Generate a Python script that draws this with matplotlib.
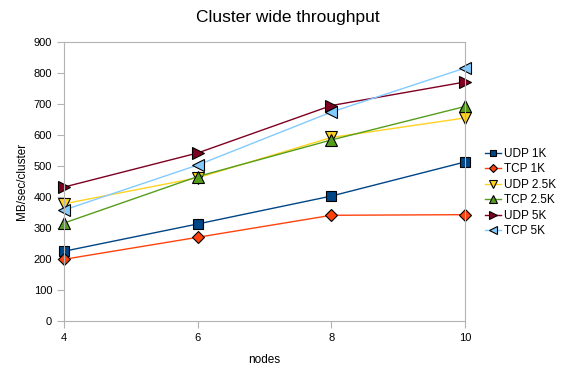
import matplotlib
matplotlib.use("Agg")
import matplotlib.pyplot as plt

# ---- datos ----
nodes = [4, 6, 8, 10]
udp_1k = [225, 313, 403, 513]
tcp_1k = [199, 270, 341, 343]
udp_25k = [378, 462, 592, 655]
tcp_25k = [316, 466, 584, 692]
udp_5k = [432, 542, 695, 771]
tcp_5k = [358, 503, 674, 816]

series = [
    ("UDP 1K", udp_1k, "#004586", "s", 7.5),
    ("TCP 1K", tcp_1k, "#ff420e", "D", 6.5),
    ("UDP 2.5K", udp_25k, "#ffd320", "v", 9),
    ("TCP 2.5K", tcp_25k, "#579d1c", "^", 9),
    ("UDP 5K", udp_5k, "#7e0021", ">", 9),
    ("TCP 5K", tcp_5k, "#83caff", "<", 9),
]

plt.rcParams["font.family"] = ["Liberation Sans", "DejaVu Sans"]
fig = plt.figure(figsize=(5.7, 3.83), dpi=100)
ax = fig.add_axes([64 / 570, 62 / 383, 401 / 570, 279 / 383])

for name, vals, color, mk, ms in series:
    ax.plot(nodes, vals, color=color, lw=1.0, marker=mk, ms=ms,
            markerfacecolor=color, markeredgecolor="black",
            markeredgewidth=0.8, label=name)

ax.set_xlim(4, 10)
ax.set_ylim(0, 900)
ax.set_xticks(nodes)
ax.set_yticks(range(0, 1000, 100))
for sp in ax.spines.values():
    sp.set_color("#b3b3b3")
ax.tick_params(colors="#b3b3b3", labelcolor="black", labelsize=8, length=5)
for l in ax.get_lines():
    l.set_clip_on(False)

ax.set_xlabel("nodes", fontsize=8.5, labelpad=8)
ax.set_ylabel("MB/sec/cluster", fontsize=8.5, labelpad=4)
fig.text(0.505, 0.955, "Cluster wide throughput", ha="center", va="center",
         fontsize=12.5)

fig.legend(loc="upper left", bbox_to_anchor=(480 / 570, 1 - 143 / 383),
           frameon=False, fontsize=8.5, handlelength=1.4, handletextpad=0.2,
           labelspacing=0.3, markerscale=0.65, borderaxespad=0)

fig.savefig("out.png", dpi=100)
